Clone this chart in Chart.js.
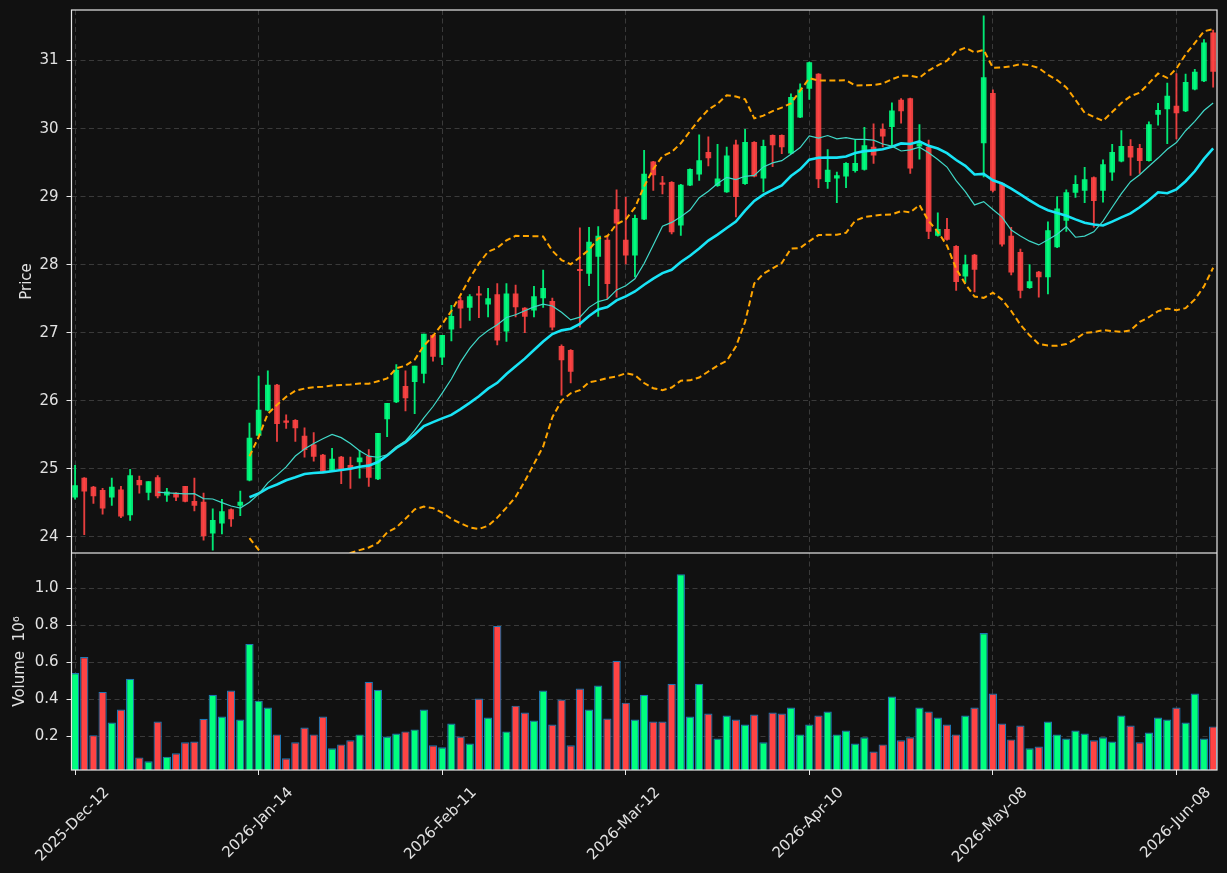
<!DOCTYPE html>
<html>
<head>
<meta charset="utf-8">
<script src="https://cdn.jsdelivr.net/npm/chart.js@4.4.1/dist/chart.umd.min.js"></script>
<style>
  html, body { margin: 0; padding: 0; background: #111111; }
  #wrap { position: relative; width: 1227px; height: 873px; background: #111111; }
  #priceChart { position: absolute; left: 0; top: 0; }
  #volChart { position: absolute; left: 0; top: 553px; }
</style>
</head>
<body>
<div id="wrap">
  <canvas id="priceChart" width="1227" height="553"></canvas>
  <canvas id="volChart" width="1227" height="320"></canvas>
</div>
<script>
// one bar per trading day, x = bar index; a date label every 20 bars
const tickIdx = [0, 20, 40, 60, 80, 100, 120];
const tickLabels = ['2025-Dec-12', '2026-Jan-14', '2026-Feb-11', '2026-Mar-12',
                    '2026-Apr-10', '2026-May-08', '2026-Jun-08'];

const opens = [
  24.58, 24.86, 24.73, 24.68, 24.58, 24.69, 24.32, 24.83, 24.65, 24.87,
  24.61, 24.64, 24.74, 24.52, 24.51, 24.05, 24.20, 24.40, 24.46, 24.83,
  25.49, 25.86, 26.23, 25.70, 25.71, 25.48, 25.35, 25.20, 24.97, 25.17,
  25.05, 25.10, 25.18, 24.85, 25.73, 25.98, 26.21, 26.28, 26.40, 26.96,
  26.64, 27.05, 27.47, 27.37, 27.57, 27.42, 27.56, 27.02, 27.57, 27.36,
  27.33, 27.51, 27.46, 26.80, 26.74, 27.93, 27.87, 28.12, 28.36, 28.81,
  28.36, 28.14, 28.67, 29.51, 29.20, 29.21, 28.58, 29.17, 29.33, 29.65,
  29.16, 29.07, 29.76, 29.19, 29.80, 29.27, 29.90, 29.90, 29.64, 30.17,
  30.59, 30.80, 29.22, 29.27, 29.30, 29.38, 29.40, 29.73, 29.99, 30.03,
  30.42, 30.44, 29.74, 29.73, 28.43, 28.52, 28.27, 27.83, 28.14, 29.79,
  30.52, 29.19, 28.42, 28.18, 27.66, 27.89, 27.82, 28.26, 28.65, 29.06,
  29.09, 29.28, 29.09, 29.36, 29.52, 29.74, 29.71, 29.53, 30.21, 30.29,
  30.33, 30.26, 30.58, 30.70, 31.41
];
const highs = [
  25.05, 24.87, 24.74, 24.71, 24.86, 24.74, 24.99, 24.89, 24.81, 24.90,
  24.71, 24.65, 24.74, 24.86, 24.64, 24.41, 24.55, 24.41, 24.67, 25.67,
  26.36, 26.44, 26.24, 25.79, 25.72, 25.60, 25.53, 25.21, 25.30, 25.18,
  25.17, 25.27, 25.28, 25.52, 25.96, 26.53, 26.44, 26.51, 26.98, 26.97,
  26.96, 27.40, 27.52, 27.56, 27.68, 27.65, 27.72, 27.72, 27.70, 27.37,
  27.68, 27.92, 27.51, 26.82, 26.75, 28.54, 28.55, 28.56, 28.43, 29.10,
  28.99, 28.73, 29.68, 29.52, 29.30, 29.22, 29.18, 29.41, 29.91, 29.88,
  29.77, 29.73, 29.83, 29.99, 29.81, 29.83, 29.91, 29.91, 30.51, 30.66,
  30.98, 30.81, 29.69, 29.36, 29.50, 29.83, 30.02, 30.07, 30.07, 30.38,
  30.44, 30.45, 30.06, 29.83, 28.76, 28.68, 28.28, 28.14, 28.15, 31.66,
  30.57, 29.20, 28.55, 28.23, 28.00, 27.90, 28.63, 29.00, 29.10, 29.31,
  29.43, 29.29, 29.54, 29.77, 29.97, 29.84, 29.77, 30.10, 30.37, 30.67,
  30.81, 30.80, 30.87, 31.31, 31.45
];
const lows = [
  24.55, 24.03, 24.49, 24.33, 24.46, 24.28, 24.24, 24.64, 24.54, 24.57,
  24.52, 24.53, 24.51, 24.38, 23.95, 23.80, 24.04, 24.15, 24.31, 24.82,
  25.48, 25.85, 25.40, 25.59, 25.40, 25.17, 25.11, 24.94, 24.96, 24.78,
  24.71, 24.86, 24.74, 24.84, 25.47, 25.97, 25.85, 25.81, 26.26, 26.58,
  26.53, 26.88, 27.07, 27.18, 27.22, 27.23, 26.82, 26.87, 27.23, 27.00,
  27.23, 27.37, 27.04, 26.08, 26.26, 27.08, 27.69, 27.24, 27.50, 27.52,
  28.01, 27.82, 28.66, 29.09, 29.04, 28.45, 28.43, 29.16, 29.24, 29.45,
  29.15, 29.06, 28.70, 29.18, 29.29, 29.07, 29.44, 29.63, 29.63, 30.16,
  30.43, 29.13, 29.12, 28.91, 29.13, 29.36, 29.39, 29.49, 29.73, 29.73,
  30.08, 29.34, 29.55, 28.38, 28.42, 28.36, 27.62, 27.74, 27.60, 29.29,
  29.07, 28.27, 27.85, 27.51, 27.65, 27.52, 27.57, 28.25, 28.49, 28.99,
  28.91, 28.55, 28.92, 29.24, 29.51, 29.31, 29.34, 29.52, 30.05, 29.78,
  29.85, 30.25, 30.57, 30.69, 30.61
];
const closes = [
  24.75, 24.67, 24.60, 24.42, 24.73, 24.30, 24.90, 24.76, 24.81, 24.60,
  24.66, 24.58, 24.52, 24.46, 24.01, 24.24, 24.37, 24.26, 24.51, 25.45,
  25.86, 26.23, 25.66, 25.68, 25.60, 25.28, 25.18, 24.96, 25.14, 24.97,
  25.00, 25.16, 24.87, 25.52, 25.96, 26.45, 26.04, 26.51, 26.98, 26.65,
  26.96, 27.24, 27.36, 27.53, 27.55, 27.50, 26.89, 27.57, 27.38, 27.24,
  27.53, 27.65, 27.08, 26.60, 26.43, 27.91, 28.33, 28.42, 27.72, 28.61,
  28.14, 28.68, 29.33, 29.32, 29.18, 28.48, 29.17, 29.40, 29.53, 29.57,
  29.26, 29.60, 29.00, 29.80, 29.30, 29.74, 29.76, 29.73, 30.46, 30.57,
  30.97, 29.26, 29.39, 29.31, 29.49, 29.49, 29.75, 29.61, 29.89, 30.26,
  30.26, 29.42, 29.78, 28.49, 28.52, 28.37, 27.75, 28.00, 27.93, 30.75,
  29.09, 28.30, 27.89, 27.62, 27.75, 27.82, 28.50, 28.82, 29.06, 29.18,
  29.25, 28.94, 29.47, 29.65, 29.74, 29.58, 29.53, 30.06, 30.27, 30.48,
  30.23, 30.68, 30.83, 31.26, 30.84
];
// volume in millions
const volumes = [
  0.542, 0.628, 0.207, 0.440, 0.275, 0.345, 0.511, 0.087, 0.066, 0.280,
  0.091, 0.109, 0.168, 0.173, 0.295, 0.425, 0.307, 0.447, 0.291, 0.699,
  0.393, 0.356, 0.211, 0.082, 0.168, 0.248, 0.211, 0.307, 0.136, 0.157,
  0.179, 0.211, 0.495, 0.452, 0.200, 0.216, 0.227, 0.238, 0.345, 0.152,
  0.141, 0.270, 0.200, 0.162, 0.404, 0.302, 0.796, 0.227, 0.366, 0.329,
  0.286, 0.447, 0.264, 0.399, 0.152, 0.458, 0.345, 0.474, 0.297, 0.608,
  0.382, 0.291, 0.425, 0.280, 0.280, 0.484, 1.075, 0.307, 0.484, 0.323,
  0.189, 0.313, 0.291, 0.264, 0.318, 0.168, 0.329, 0.323, 0.356, 0.211,
  0.264, 0.313, 0.334, 0.211, 0.232, 0.162, 0.195, 0.119, 0.157, 0.415,
  0.179, 0.195, 0.356, 0.334, 0.302, 0.264, 0.211, 0.313, 0.356, 0.758,
  0.431, 0.270, 0.184, 0.259, 0.136, 0.146, 0.280, 0.211, 0.189, 0.232,
  0.216, 0.179, 0.195, 0.173, 0.313, 0.259, 0.168, 0.221, 0.302, 0.291,
  0.356, 0.275, 0.431, 0.189, 0.254
];

// moving averages / bollinger bands of the closes (10 and 20 bars, 2 sd)
function sma(arr, n) {
  return arr.map((v, i) => {
    if (i < n - 1) return null;
    let s = 0;
    for (let k = i - n + 1; k <= i; k++) s += arr[k];
    return s / n;
  });
}
function band(arr, n, k) {
  const mid = sma(arr, n);
  return arr.map((v, i) => {
    if (mid[i] === null) return null;
    let ss = 0;
    for (let j = i - n + 1; j <= i; j++) ss += (arr[j] - mid[i]) ** 2;
    return mid[i] + k * Math.sqrt(ss / (n - 1));
  });
}
const ma10 = sma(closes, 10);
const ma20 = sma(closes, 20);
const bbUp = band(closes, 20, 2);
const bbLow = band(closes, 20, -2);

const pts = arr => arr.map((v, i) => ({x: i, y: v}));
const isUp = i => closes[i] >= opens[i];

const UP_CANDLE = 'rgba(0,255,127,0.9)';
const DN_CANDLE = 'rgba(255,68,68,0.9)';
const UP_VOL = '#00ff7f';
const DN_VOL = '#ff4444';
const TXT = '#e2e2e2';
const GRID = '#3a3a3a';
const X_MIN = -0.39, X_MAX = 124.42;

Chart.defaults.font.family = 'DejaVu Sans';
Chart.defaults.font.size = 15;
Chart.defaults.color = TXT;

const spines = {
  id: 'spines',
  afterDraw(chart) {
    const {ctx, chartArea: a} = chart;
    ctx.save();
    ctx.strokeStyle = '#e8e8e8';
    ctx.lineWidth = 1.2;
    ctx.strokeRect(a.left, a.top, a.right - a.left, a.bottom - a.top);
    ctx.restore();
  }
};

// no extra room for half-labels at the ends of the axes
function noPad(s) {
  s.paddingTop = 0; s.paddingBottom = 0; s.paddingLeft = 0; s.paddingRight = 0;
}

function xScale(showLabels) {
  return {
    type: 'linear', min: X_MIN, max: X_MAX, offset: false,
    afterBuildTicks: s => { s.ticks = tickIdx.map(v => ({value: v})); },
    ticks: {
      display: showLabels, autoSkip: false, minRotation: 45, maxRotation: 45,
      labelOffset: 32, padding: 9,
      callback: (v, i) => tickLabels[i]
    },
    grid: {color: GRID, offset: false, drawTicks: showLabels, tickLength: 5,
           tickColor: '#e8e8e8', tickBorderDash: []},
    border: {display: false, dash: [5, 3.5]},
    afterFit: s => { s.height = showLabels ? 103 : 0; noPad(s); }
  };
}

function yScale(min, max, ticks, title, titlePad, fmt) {
  return {
    type: 'linear', min: min, max: max,
    afterBuildTicks: s => { s.ticks = ticks.map(v => ({value: v})); },
    ticks: {padding: 8, color: TXT, callback: fmt},
    grid: {color: GRID, tickLength: 5, tickColor: '#e8e8e8', tickBorderDash: []},
    border: {display: false, dash: [5, 3.5]},
    title: {display: true, text: title, color: TXT, padding: {top: titlePad, bottom: 0}},
    afterFit: s => { s.width = 71.5; noPad(s); }
  };
}

new Chart(document.getElementById('priceChart'), {
  type: 'bar',
  data: {
    datasets: [
      {type: 'line', data: pts(ma10), borderColor: '#40d8c8', borderWidth: 1.2,
       pointRadius: 0, tension: 0, order: 0},
      {type: 'line', data: pts(ma20), borderColor: '#18e4f6', borderWidth: 2.6,
       pointRadius: 0, tension: 0, order: 0},
      {type: 'line', data: pts(bbUp), borderColor: '#ffa500', borderWidth: 2,
       borderDash: [6, 3.5], pointRadius: 0, tension: 0, order: 0},
      {type: 'line', data: pts(bbLow), borderColor: '#ffa500', borderWidth: 2,
       borderDash: [6, 3.5], pointRadius: 0, tension: 0, order: 0},
      {type: 'bar', data: opens.map((o, i) => ({x: i, y: [o, closes[i]]})),
       backgroundColor: c => isUp(c.dataIndex) ? UP_CANDLE : DN_CANDLE,
       barThickness: 5, minBarLength: 1.5, grouped: false, borderWidth: 0, order: 1},
      {type: 'bar', data: lows.map((l, i) => ({x: i, y: [l, highs[i]]})),
       backgroundColor: c => isUp(c.dataIndex) ? UP_CANDLE : DN_CANDLE,
       barThickness: 1.2, grouped: false, borderWidth: 0, order: 2}
    ]
  },
  options: {
    responsive: false, animation: false, devicePixelRatio: 1,
    layout: {padding: {top: 10, right: 10, left: 0, bottom: 0}},
    plugins: {legend: {display: false}, tooltip: {enabled: false}},
    scales: {
      x: xScale(false),
      y: yScale(23.76, 31.744, [24, 25, 26, 27, 28, 29, 30, 31], 'Price', 18, v => String(v))
    }
  },
  plugins: [spines]
});

new Chart(document.getElementById('volChart'), {
  type: 'bar',
  data: {
    datasets: [
      {data: volumes.map((v, i) => ({x: i, y: v})),
       backgroundColor: c => isUp(c.dataIndex) ? UP_VOL : DN_VOL,
       borderColor: '#1f77b4', borderWidth: 1.2, borderSkipped: false,
       barPercentage: 0.9, categoryPercentage: 1.0}
    ]
  },
  options: {
    responsive: false, animation: false, devicePixelRatio: 1,
    layout: {padding: {top: 0, right: 10, left: 0, bottom: 0}},
    plugins: {legend: {display: false}, tooltip: {enabled: false}},
    scales: {
      x: xScale(true),
      y: yScale(0.019, 1.189, [0.2, 0.4, 0.6, 0.8, 1.0], 'Volume  10\u2076', 11, v => v.toFixed(1))
    }
  },
  plugins: [spines]
});
</script>
</body>
</html>
